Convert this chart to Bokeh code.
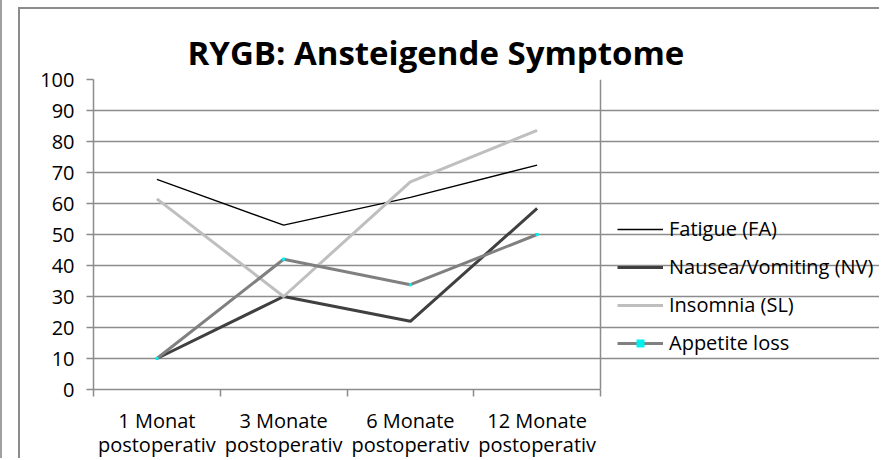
from bokeh.plotting import figure
from bokeh.layouts import column
from bokeh.models import (Range1d, LinearAxis, FixedTicker, Legend, LegendItem, Title, Span)
from bokeh.embed import file_html
from bokeh.resources import INLINE

categories = ["1 Monat\npostoperativ", "3 Monate\npostoperativ",
              "6 Monate\npostoperativ", "12 Monate\npostoperativ"]
fatigue = [67.8, 53.0, 62.0, 72.4]
nausea = [10.0, 30.0, 22.0, 58.4]
insomnia = [61.5, 30.0, 67.0, 83.6]
appetite = [10.0, 42.0, 33.8, 50.0]
y_ticks = list(range(0, 101, 10))

FONT = "Open Sans"
GRID = "#8c8c8c"

n = len(categories)
xs = [i + 0.5 for i in range(n)]
bounds = list(range(n + 1))

# layout (pixels)
CW, CH = 861, 451
ML, MR, MT, MB = 73, 0, 70, 71
PLOT_W = 507  # pixel width of the visible plotting area
frame_w = CW - ML - MR
x_end = n * frame_w / PLOT_W  # frame extends right so the legend fits inside

p = figure(width=CW, height=CH, output_backend="svg", toolbar_location=None,
           x_range=Range1d(0, x_end), y_range=Range1d(0, 100),
           x_axis_location=None, min_border_left=ML, min_border_right=MR,
           min_border_top=MT, min_border_bottom=MB)
p.background_fill_color = "white"
p.border_fill_color = "white"
p.outline_line_color = None
p.xgrid.grid_line_color = None
p.ygrid.ticker = FixedTicker(ticks=y_ticks)
p.ygrid.grid_line_color = GRID
p.ygrid.grid_line_width = 1.5
p.ygrid.bounds = (0, n)
p.margin = (7, 0, 0, 16)
p.styles = {"border-left": "2px solid #8c8c8c", "border-top": "2px solid #8c8c8c"}

p.add_layout(Span(location=n, dimension="height", line_color=GRID, line_width=1.5))

ya = p.yaxis[0]
ya.ticker = FixedTicker(ticks=y_ticks)
ya.axis_line_color = GRID
ya.axis_line_width = 1.5
ya.major_tick_line_color = GRID
ya.major_tick_line_width = 1.5
ya.major_tick_out = 7
ya.major_tick_in = 0
ya.minor_tick_line_color = None
ya.major_label_text_font = FONT
ya.major_label_text_font_size = "20px"
ya.major_label_text_color = "black"
ya.major_label_standoff = 12

# axis with tick marks at category boundaries
ax_b = LinearAxis(ticker=FixedTicker(ticks=bounds), bounds=(0, n),
                  major_tick_out=7, major_tick_in=0,
                  axis_line_color=GRID, axis_line_width=1.5,
                  major_tick_line_color=GRID, major_tick_line_width=1.5,
                  minor_tick_line_color=None,
                  major_label_overrides={b: "" for b in bounds},
                  major_label_standoff=0, major_label_text_font_size="1px")
p.add_layout(ax_b, "below")

line1 = {x: c.split("\n")[0] for x, c in zip(xs, categories)}
line2 = {x: c.split("\n")[1] for x, c in zip(xs, categories)}
for overrides, standoff in ((line1, 10), (line2, -6)):
    ax = LinearAxis(ticker=FixedTicker(ticks=xs), major_tick_out=0, major_tick_in=0,
                    axis_line_color=None, major_tick_line_color=None,
                    minor_tick_line_color=None, major_label_overrides=overrides,
                    major_label_standoff=standoff, major_label_text_font=FONT,
                    major_label_text_font_size="20px", major_label_text_color="black")
    p.add_layout(ax, "below")

r_fa = p.line(xs, fatigue, line_color="black", line_width=1.3)
r_nv = p.line(xs, nausea, line_color="#404040", line_width=3)
r_sl = p.line(xs, insomnia, line_color="#bfbfbf", line_width=3)
r_ap = p.line(xs, appetite, line_color="#808080", line_width=3)
r_apm = p.scatter(xs, appetite, marker="square", size=3, fill_color="#00f0f0",
                  line_color=None)

legend = Legend(items=[
    LegendItem(label="Fatigue (FA)", renderers=[r_fa]),
    LegendItem(label="Nausea/Vomiting (NV)", renderers=[r_nv]),
    LegendItem(label="Insomnia (SL)", renderers=[r_sl]),
    LegendItem(label="Appetite loss", renderers=[r_ap, r_apm]),
], location=(524, 33))
legend.padding = 0
legend.margin = 0
legend.spacing = 11
legend.glyph_width = 46
legend.glyph_height = 20
legend.label_height = 20
legend.label_standoff = 6
legend.label_text_font = FONT
legend.label_text_font_size = "20px"
legend.label_text_color = "black"
legend.border_line_color = None
legend.background_fill_color = None
p.add_layout(legend)

title = Title(text="RYGB: Ansteigende Symptome", text_font=FONT,
              text_font_style="bold", text_font_size="33px",
              align="left", offset=94, standoff=9, text_color="black")
p.add_layout(title, "above")

page = column(p, styles={"border-left": "2px solid #a0a0a0"})
open("out.html", "w").write(file_html(page, INLINE))
